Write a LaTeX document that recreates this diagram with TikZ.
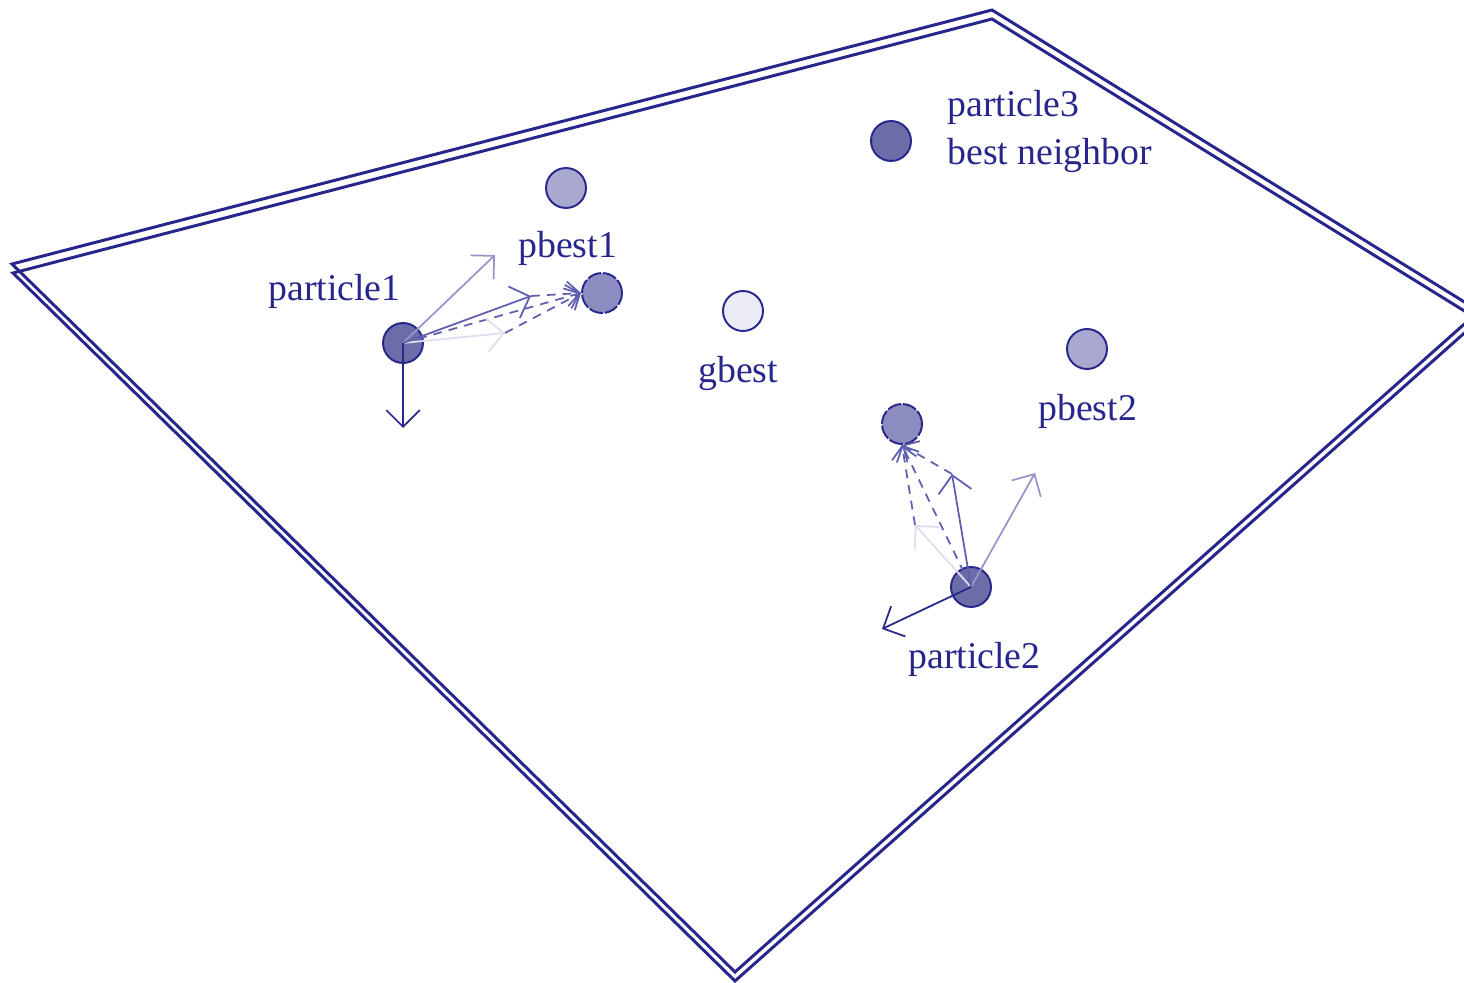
\documentclass[tikz,border=0pt]{standalone}
\usepackage{fontspec}
\setmainfont{Liberation Serif}
\usetikzlibrary{arrows.meta}

\definecolor{navy}{RGB}{38,38,140}
\definecolor{inkdark}{RGB}{40,40,140}
\definecolor{inkmed}{RGB}{95,95,175}
\definecolor{inklight}{RGB}{150,150,205}
\definecolor{inkfaint}{RGB}{222,222,238}
\definecolor{filldark}{RGB}{108,108,168}
\definecolor{fillmed}{RGB}{140,140,192}
\definecolor{filllight}{RGB}{168,168,208}
\definecolor{fillpale}{RGB}{236,236,245}

\tikzset{
  plane/.style={draw=navy, line width=1.7pt, line join=miter},
  ball/.style={circle, draw=navy, line width=1.1pt, minimum size=0.8cm, inner sep=0pt},
  target/.style={ball, dash pattern=on 8pt off 1.2pt},
  lbl/.style={text=navy, font=\fontsize{21.5}{24}\selectfont, inner sep=0pt, anchor=base west},
  vec/.style={line width=1pt, -{Straight Barb[length=9.5pt,width=19pt,line width=1pt]}},
  guide/.style={line width=1pt, dash pattern=on 5pt off 4pt,
    -{Straight Barb[length=7pt,width=14pt,line width=1pt]}},
}

\begin{document}
\begin{tikzpicture}[x=0.02cm, y=-0.02cm]
\useasboundingbox (0,0) rectangle (1464,983);

% the search plane, drawn as a thin slab
\begin{scope}
  \clip (0,0) rectangle (1464,983);
  \draw[plane] (12,264) -- (992,10) -- (1479,311) -- (735,972) -- cycle;
  \draw[plane] (13,273) -- (992,19) -- (1479,320) -- (735,981) -- cycle;
\end{scope}

% particles and best positions
\node[ball, fill=filldark]  (p1)  at (403,343) {};
\node[ball, fill=filllight] (pb1) at (566,188) {};
\node[target, fill=fillmed] (t1)  at (602,293) {};
\node[ball, fill=fillpale]  (gb)  at (743,311) {};
\node[ball, fill=filldark]  (p3)  at (891,141) {};
\node[ball, fill=filllight] (pb2) at (1087,349) {};
\node[target, fill=fillmed] (t2)  at (902,424) {};
\node[ball, fill=filldark]  (p2)  at (971,587) {};

% labels
\node[lbl] (lp1)  at (268,300) {particle1};
\node[lbl] (lpb1) at (518,257) {pbest1};
\node[lbl] (lgb)  at (698,382) {gbest};
\node[lbl] (lp3)  at (947,117) {particle3};
\node[lbl] (lbn)  at (947,165) {best neighbor};
\node[lbl] (lpb2) at (1038,420) {pbest2};
\node[lbl] (lp2)  at (908,668) {particle2};

% velocity components of particle 1
\coordinate (v1a) at (403,428);
\coordinate (v1b) at (495,255);
\coordinate (v1c) at (531,296);
\coordinate (v1d) at (505,333);
\draw[guide, draw=inkmed] (p1.center) -- (t1.west);
\draw[guide, draw=inkmed] (v1c) -- (t1.west);
\draw[guide, draw=inkmed] (v1d) -- (t1.west);
\draw[vec, draw=inkfaint] (p1.center) -- (v1d);
\draw[vec, draw=inklight] (p1.center) -- (v1b);
\draw[vec, draw=inkmed] (p1.center) -- (v1c);
\draw[vec, draw=inkdark] (p1.center) -- (v1a);

% velocity components of particle 2
\coordinate (v2a) at (882,629);
\coordinate (v2b) at (1035,473);
\coordinate (v2c) at (952,474);
\coordinate (v2d) at (915,525);
\draw[guide, draw=inkmed] (p2.center) -- (t2.south);
\draw[guide, draw=inkmed] (v2c) -- (t2.south);
\draw[guide, draw=inkmed] (v2d) -- (t2.south);
\draw[vec, draw=inkfaint] (p2.center) -- (v2d);
\draw[vec, draw=inklight] (p2.center) -- (v2b);
\draw[vec, draw=inkmed] (p2.center) -- (v2c);
\draw[vec, draw=inkdark] (p2.center) -- (v2a);
\end{tikzpicture}
\end{document}
